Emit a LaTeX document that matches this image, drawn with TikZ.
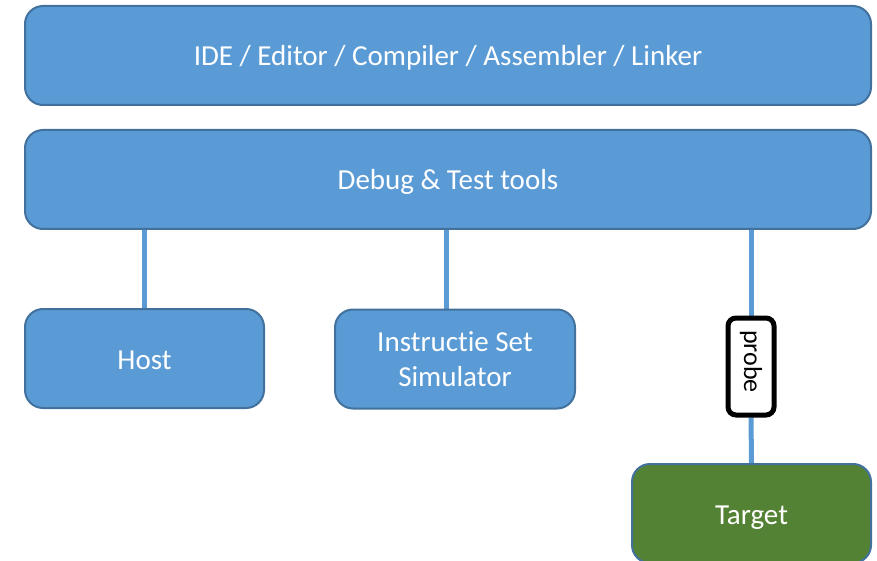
\documentclass[tikz,border=0pt]{standalone}
\usepackage{fontspec}
\setmainfont{Carlito}[Ligatures=NoCommon]
\usetikzlibrary{positioning, backgrounds, calc}
\definecolor{boxblue}{HTML}{5B9BD5}
\definecolor{edgeblue}{HTML}{41719C}
\definecolor{boxgreen}{HTML}{548235}
\tikzset{
	block/.style={draw=edgeblue, line width=2pt, rounded corners=18pt, fill=boxblue, text=white, align=center, font=\fontsize{29}{35}\selectfont, inner sep=0pt},
	oneline/.style={text height=21pt, text depth=0pt},
	link/.style={draw=boxblue, line width=5pt}
}

\begin{document}
\begin{tikzpicture}[x=1pt, y=-1pt]
	\useasboundingbox (0, 0) rectangle (877, 561);
	\node[block, oneline, minimum width=846pt, minimum height=99pt] (ide) at (448, 55.5) {IDE / Editor / Compiler / Assembler / Linker};
	\node[block, oneline, minimum width=846pt, minimum height=99pt] (debug) at (448, 179.5) {Debug \& Test tools};
	\node[block, oneline, minimum width=239pt, minimum height=99pt] (host) at (144.5, 358.5) {Host};
	\node[block, minimum width=240pt, minimum height=99pt] (iss) at (455, 359) {Instructie Set\\Simulator};
	\node[block, oneline, fill=boxgreen, minimum width=239pt, minimum height=99pt] (target) at (751.5, 513.5) {Target};
	\node[draw, line width=5pt, rounded corners=8pt, fill=white, minimum width=46pt, minimum height=97pt, inner sep=0pt] (probe) at (751, 366.5) {};
	\node[rotate=-90, font=\fontsize{26}{31}\selectfont] (probetext) at ([yshift=5pt]probe.center) {probe};
	\begin{scope}[on background layer]
		\draw[link] (host.north) -- (host.north |- debug.south);
		\draw[link] ([xshift=-9pt]iss.north) -- ([xshift=-9pt]iss.north |- debug.south);
		\draw[link] (probe.north) -- (probe.north |- debug.south);
		\draw[link] (probe.south) -- (target.north);
	\end{scope}
\end{tikzpicture}
\end{document}
